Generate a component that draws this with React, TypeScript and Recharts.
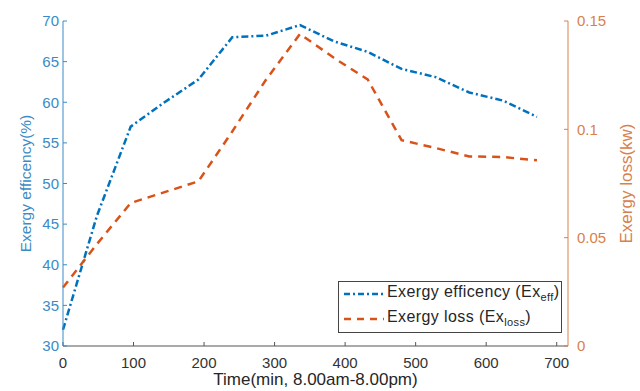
import React from 'react';
import { LineChart, Line, XAxis, YAxis } from 'recharts';

// time in minutes from 8.00am, sampled every 48 min
const timeMin = [0, 48, 96, 144, 192, 240, 288, 336, 384, 432, 480, 528, 576, 624, 672];
const exergyEff = [32, 46, 57, 60, 62.8, 68, 68.2, 69.5, 67.5, 66.2, 64.1, 63.1, 61.2, 60.2, 58.2];
const exergyLoss = [0.027, 0.047, 0.066, 0.071, 0.076, 0.099, 0.123, 0.144, 0.133, 0.123, 0.095, 0.0914, 0.0875, 0.0872, 0.0857];

const xTicks = [0, 100, 200, 300, 400, 500, 600, 700];
const effTicks = [30, 35, 40, 45, 50, 55, 60, 65, 70];
const lossTicks = [0, 0.05, 0.1, 0.15];

const BLUE = '#0072BD';
const ORANGE = '#D95319';
const BLUE_AXIS = '#3a8bc6';
const ORANGE_AXIS = '#d9814c';
const GRAY = '#555';

const data = timeMin.map((t, i) => ({ t, eff: exergyEff[i], loss: exergyLoss[i] }));

const font = 'Arial, "Liberation Sans", sans-serif';

const LegendBox = () => (
  <div
    style={{
      position: 'absolute',
      left: 338,
      top: 281,
      width: 222,
      height: 50,
      border: '1px solid #444',
      background: '#fff',
      fontFamily: font,
      fontSize: 16,
      letterSpacing: 0.4,
      color: '#262626',
    }}
  >
    <svg width={46} height={50} style={{ position: 'absolute', left: 0, top: 0 }}>
      <line x1={5} x2={45} y1={12} y2={12} stroke={BLUE} strokeWidth={2.5} strokeDasharray="6 3 2 3" />
      <line x1={5} x2={45} y1={37} y2={37} stroke={ORANGE} strokeWidth={2.5} strokeDasharray="7 6" />
    </svg>
    <div style={{ position: 'absolute', left: 48, top: 1, whiteSpace: 'nowrap' }}>
      Exergy efficency (Ex<sub style={{ fontSize: 11 }}>eff</sub>)
    </div>
    <div style={{ position: 'absolute', left: 48, top: 26, whiteSpace: 'nowrap' }}>
      Exergy loss (Ex<sub style={{ fontSize: 11 }}>loss</sub>)
    </div>
  </div>
);

export default function App() {
  return (
    <div style={{ position: 'absolute', left: 0, top: 0, width: 640, height: 391, background: '#fff' }}>
      <LineChart width={640} height={391} data={data} margin={{ top: 21, right: 0, left: 0, bottom: 0 }}>
        <XAxis
          xAxisId="top"
          orientation="top"
          dataKey="t"
          type="number"
          domain={[0, 716]}
          ticks={xTicks}
          height={0}
          tickSize={-4}
          tickFormatter={() => ''}
          stroke={GRAY}
        />
        <XAxis
          dataKey="t"
          type="number"
          domain={[0, 716]}
          ticks={xTicks}
          height={45}
          tickSize={-4}
          tickMargin={15}
          stroke={GRAY}
          tick={{ fill: '#333', fontSize: 15, fontFamily: font }}
          label={{ value: 'Time(min, 8.00am-8.00pm)', position: 'center', dy: 10, fill: '#262626', fontSize: 17, fontFamily: font }}
        />
        <YAxis
          yAxisId="eff"
          domain={[30, 70]}
          ticks={effTicks}
          width={63}
          tickSize={-4}
          tickMargin={8}
          stroke={BLUE_AXIS}
          tick={{ fill: BLUE_AXIS, fontSize: 15, fontFamily: font }}
          label={{ value: 'Exergy efficency(%)', angle: -90, position: 'center', dx: -6, fill: BLUE_AXIS, fontSize: 15.5, fontFamily: font }}
        />
        <YAxis
          yAxisId="loss"
          orientation="right"
          domain={[0, 0.15]}
          ticks={lossTicks}
          width={72}
          tickSize={-4}
          tickMargin={13}
          stroke={ORANGE_AXIS}
          tick={{ fill: ORANGE_AXIS, fontSize: 15, fontFamily: font, textAnchor: 'start' }}
          label={{ value: 'Exergy loss(kw)', angle: -90, position: 'center', dx: 22, fill: ORANGE_AXIS, fontSize: 17, fontFamily: font }}
        />
        <Line
          yAxisId="eff"
          dataKey="eff"
          stroke={BLUE}
          strokeWidth={2.5}
          strokeDasharray="7 3 2 3"
          dot={false}
          isAnimationActive={false}
        />
        <Line
          yAxisId="loss"
          dataKey="loss"
          stroke={ORANGE}
          strokeWidth={2.5}
          strokeDasharray="8 6"
          dot={false}
          isAnimationActive={false}
        />
      </LineChart>
      <LegendBox />
    </div>
  );
}
